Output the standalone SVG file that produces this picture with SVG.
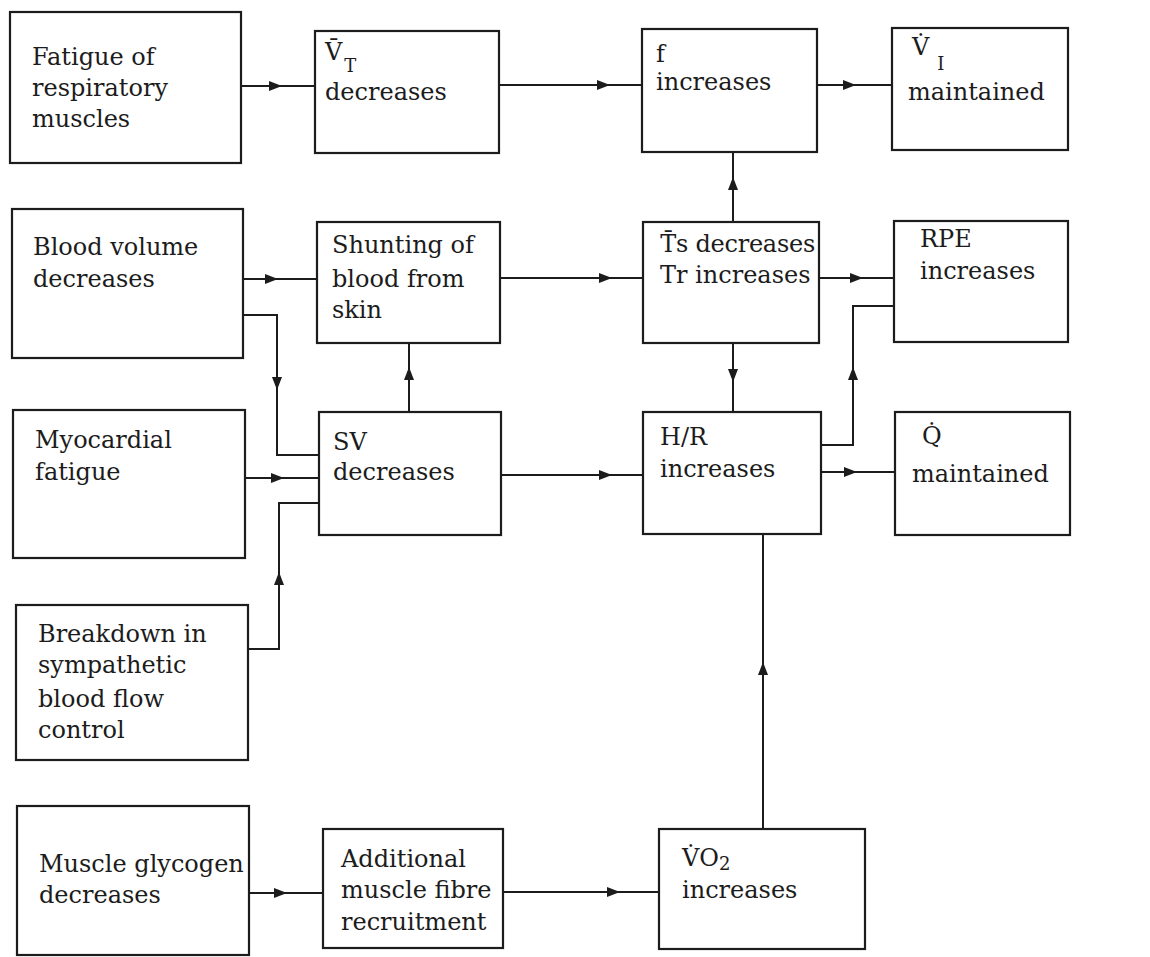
<svg xmlns="http://www.w3.org/2000/svg" xmlns:xlink="http://www.w3.org/1999/xlink" width="1150" height="957" viewBox="0 0 1150 957">
<style>
.box{fill:none;stroke:#1c1c1c;stroke-width:2.2}
.ln{fill:none;stroke:#1c1c1c;stroke-width:2}
.t{font-family:"DejaVu Serif","Liberation Serif",serif;font-size:24px;fill:#1c1c1c}
.sub{font-size:18px}
</style>
<defs>
<path id="tri" d="M0,0 L-13,-5 L-13,5 Z" fill="#1c1c1c"/>
</defs>
<rect width="1150" height="957" fill="#fff"/>

<g id="n-fatigue"><rect class="box" x="10" y="12" width="231" height="151"/>
<text class="t" x="32" y="65">Fatigue of</text><text class="t" x="32" y="96">respiratory</text><text class="t" x="32" y="127">muscles</text></g>

<g id="n-vt"><rect class="box" x="315" y="31" width="184" height="122"/>
<text class="t" x="325" y="60">V̄<tspan class="sub" dx="2" dy="12">T</tspan></text><text class="t" x="325" y="100">decreases</text></g>

<g id="n-f"><rect class="box" x="642" y="29" width="175" height="123"/>
<text class="t" x="656" y="62">f</text><text class="t" x="656" y="90">increases</text></g>

<g id="n-vi"><rect class="box" x="892" y="28" width="176" height="122"/>
<text class="t" x="912" y="55">V̇<tspan class="sub" dx="8" dy="15">I</tspan></text><text class="t" x="908" y="100">maintained</text></g>

<g id="n-blood"><rect class="box" x="12" y="209" width="231" height="149"/>
<text class="t" x="33" y="255">Blood volume</text><text class="t" x="33" y="287">decreases</text></g>

<g id="n-shunt"><rect class="box" x="317" y="222" width="183" height="121"/>
<text class="t" x="332" y="253">Shunting of</text><text class="t" x="332" y="287">blood from</text><text class="t" x="332" y="318">skin</text></g>

<g id="n-ts"><rect class="box" x="643" y="222" width="176" height="121"/>
<text class="t" x="660" y="252" textLength="155">T̄s decreases</text><text class="t" x="660" y="283">Tr increases</text></g>

<g id="n-rpe"><rect class="box" x="894" y="221" width="174" height="121"/>
<text class="t" x="920" y="247">RPE</text><text class="t" x="920" y="279">increases</text></g>

<g id="n-myo"><rect class="box" x="13" y="410" width="232" height="148"/>
<text class="t" x="35" y="448">Myocardial</text><text class="t" x="35" y="480">fatigue</text></g>

<g id="n-sv"><rect class="box" x="319" y="412" width="182" height="123"/>
<text class="t" x="333" y="450">SV</text><text class="t" x="333" y="480">decreases</text></g>

<g id="n-hr"><rect class="box" x="643" y="412" width="178" height="122"/>
<text class="t" x="660" y="445">H/R</text><text class="t" x="660" y="477">increases</text></g>

<g id="n-q"><rect class="box" x="895" y="412" width="175" height="123"/>
<text class="t" x="922" y="444">Q̇</text><text class="t" x="912" y="482">maintained</text></g>

<g id="n-breakdown"><rect class="box" x="16" y="605" width="232" height="155"/>
<text class="t" x="38" y="642">Breakdown in</text><text class="t" x="38" y="673">sympathetic</text><text class="t" x="38" y="707">blood flow</text><text class="t" x="38" y="738">control</text></g>

<g id="n-glycogen"><rect class="box" x="17" y="806" width="232" height="149"/>
<text class="t" x="39" y="872">Muscle glycogen</text><text class="t" x="39" y="903">decreases</text></g>

<g id="n-additional"><rect class="box" x="323" y="829" width="180" height="119"/>
<text class="t" x="341" y="867">Additional</text><text class="t" x="341" y="898">muscle fibre</text><text class="t" x="341" y="930">recruitment</text></g>

<g id="n-vo2"><rect class="box" x="659" y="829" width="206" height="120"/>
<text class="t" x="682" y="866">V̇O<tspan class="sub" font-size="15" dy="4">2</tspan></text><text class="t" x="682" y="898">increases</text></g>

<g id="connectors">
<path class="ln" d="M241,86 H315"/><use xlink:href="#tri" transform="translate(282,86)"/>
<path class="ln" d="M499,85 H642"/><use xlink:href="#tri" transform="translate(610,85)"/>
<path class="ln" d="M817,85 H892"/><use xlink:href="#tri" transform="translate(856,85)"/>
<path class="ln" d="M733,222 V152"/><use xlink:href="#tri" transform="translate(733,177) rotate(-90)"/>
<path class="ln" d="M243,279 H317"/><use xlink:href="#tri" transform="translate(278,279)"/>
<path class="ln" d="M243,315 H277 V455 H319"/><use xlink:href="#tri" transform="translate(277,390) rotate(90)"/>
<path class="ln" d="M245,478 H319"/><use xlink:href="#tri" transform="translate(284,478)"/>
<path class="ln" d="M248,649 H279 V503 H319"/><use xlink:href="#tri" transform="translate(279,572) rotate(-90)"/>
<path class="ln" d="M409,412 V343"/><use xlink:href="#tri" transform="translate(409,367) rotate(-90)"/>
<path class="ln" d="M500,278 H643"/><use xlink:href="#tri" transform="translate(612,278)"/>
<path class="ln" d="M819,278 H894"/><use xlink:href="#tri" transform="translate(863,278)"/>
<path class="ln" d="M733,343 V412"/><use xlink:href="#tri" transform="translate(733,382) rotate(90)"/>
<path class="ln" d="M821,445 H853 V306 H894"/><use xlink:href="#tri" transform="translate(853,367) rotate(-90)"/>
<path class="ln" d="M501,475 H643"/><use xlink:href="#tri" transform="translate(612,475)"/>
<path class="ln" d="M821,472 H895"/><use xlink:href="#tri" transform="translate(857,472)"/>
<path class="ln" d="M249,893 H323"/><use xlink:href="#tri" transform="translate(287,893)"/>
<path class="ln" d="M503,892 H659"/><use xlink:href="#tri" transform="translate(620,892)"/>
<path class="ln" d="M763,829 V534"/><use xlink:href="#tri" transform="translate(763,662) rotate(-90)"/>
</g>
</svg>
